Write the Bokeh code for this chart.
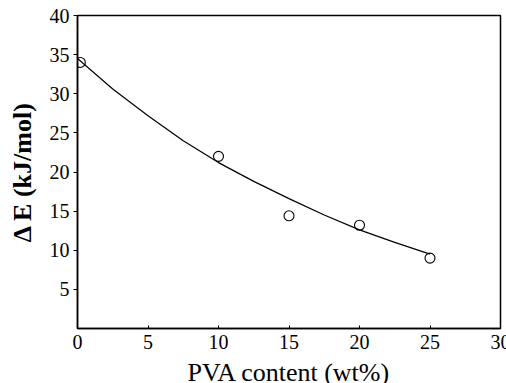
import math
from bokeh.plotting import figure
from bokeh.models import FixedTicker, Range1d
from bokeh.core.properties import value
from bokeh.embed import file_html
from bokeh.resources import INLINE

# measured data points
pva = [0.2, 10, 15, 20, 25]
delta_e = [34.0, 22.0, 14.4, 13.2, 9.0]

# fitted curve
curve_x = [0, 2.5, 5, 7.5, 10, 12.5, 15, 17.5, 20, 22.5, 25]
curve_y = [34.5, 30.6, 27.2, 24.0, 21.2, 18.8, 16.6, 14.5, 12.6, 11.0, 9.5]

x_ticks = [0, 5, 10, 15, 20, 25, 30]
y_ticks = [5, 10, 15, 20, 25, 30, 35, 40]
x_tick_labels = [str(t) for t in x_ticks]
y_tick_labels = [str(t) for t in y_ticks]
x_title = "PVA content (wt%)"
y_title = "\u0394 E (kJ/mol)"

FONT = value("Liberation Serif")

p = figure(width=506, height=383, output_backend="svg", toolbar_location=None,
           x_range=Range1d(0, 30), y_range=Range1d(0, 40),
           min_border_left=77, min_border_right=6, min_border_top=15, min_border_bottom=55)
p.grid.visible = False
p.background_fill_color = "white"
p.border_fill_color = "white"
p.outline_line_color = "black"
p.outline_line_width = 1.5

p.line(curve_x, curve_y, line_color="black", line_width=1.2)
p.scatter(pva, delta_e, marker="circle", size=10, fill_color=None, line_color="black", line_width=1.1)

for ax in (p.xaxis[0], p.yaxis[0]):
    ax.axis_line_color = "black"
    ax.axis_line_width = 1.5
    ax.major_tick_line_color = "black"
    ax.minor_tick_line_color = None
    ax.major_label_text_color = None

p.xaxis[0].ticker = FixedTicker(ticks=x_ticks)
p.yaxis[0].ticker = FixedTicker(ticks=y_ticks)
p.xaxis[0].major_tick_in = 3
p.xaxis[0].major_tick_out = 0
p.yaxis[0].major_tick_in = 0
p.yaxis[0].major_tick_out = 4

# tick labels and titles as serif text glyphs (anchored at the axes, offset in pixels)
p.text(x=x_ticks, y=[0] * len(x_ticks), text=x_tick_labels, text_align="center",
       text_baseline="top", y_offset=6, text_font=FONT, text_font_size="20px",
       text_color="black", level="overlay")
p.text(x=[0] * len(y_ticks), y=y_ticks, text=y_tick_labels, text_align="right",
       text_baseline="middle", x_offset=-8, text_font=FONT, text_font_size="20px",
       text_color="black", level="overlay")
p.text(x=[15], y=[0], text=[x_title], text_align="center", text_baseline="top",
       y_offset=29, text_font=FONT, text_font_size="26px", text_color="black", level="overlay")
p.text(x=[0], y=[20], text=[y_title], text_align="center", text_baseline="middle",
       x_offset=-55, angle=math.pi / 2, text_font=FONT, text_font_size="26px",
       text_font_style="bold", text_color="black", level="overlay")

open("out.html", "w").write(file_html(p, INLINE))
